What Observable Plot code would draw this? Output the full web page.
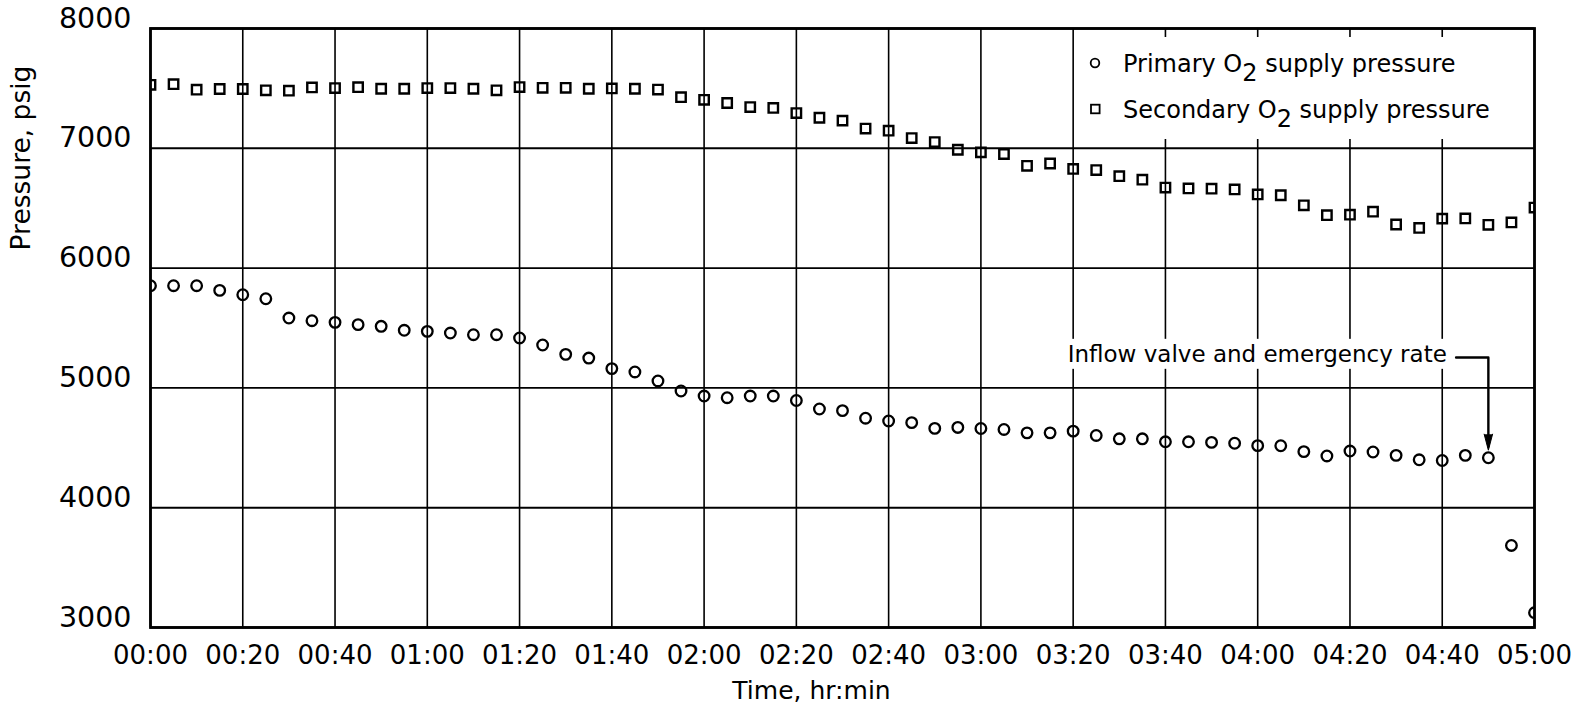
<!DOCTYPE html>
<html>
<head>
<meta charset="utf-8">
<script src="https://cdn.jsdelivr.net/npm/d3@7"></script>
<script src="https://cdn.jsdelivr.net/npm/@observablehq/plot@0.6"></script>
<style>
  body { margin: 0; background: white; }
  #chart { position: relative; width: 1590px; height: 715px; }
</style>
</head>
<body>
<div id="chart"></div>
<script>
// ---- data (minutes after start) ----
const times = [0,5,10,15,20,25,30,35,40,45,50,55,60,65,70,75,80,85,90,95,100,105,110,115,120,125,130,135,140,145,150,155,160,165,170,175,180,185,190,195,200,205,210,215,220,225,230,235,240,245,250,255,260,265,270,275,280,285,290,295,300];

const primary = [5853,5853,5853,5814,5778,5744,5583,5561,5547,5528,5514,5481,5472,5458,5444,5444,5417,5358,5280,5249,5161,5133,5058,4974,4932,4918,4932,4932,4895,4824,4810,4747,4724,4710,4662,4670,4661,4653,4625,4625,4639,4603,4575,4575,4550,4550,4545,4538,4518,4517,4468,4432,4473,4465,4437,4400,4394,4437,4417,3685,3123];

const secondary = [7530,7535,7489,7495,7495,7484,7481,7508,7503,7510,7497,7497,7503,7503,7497,7484,7511,7505,7505,7497,7500,7497,7490,7427,7405,7378,7344,7337,7294,7255,7231,7165,7147,7085,7052,6988,6966,6952,6854,6873,6828,6818,6767,6738,6672,6665,6663,6657,6615,6608,6524,6442,6446,6471,6364,6335,6413,6415,6361,6381,6505];

const xTicks = [0,20,40,60,80,100,120,140,160,180,200,220,240,260,280,300];
const xTickLabels = ["00:00","00:20","00:40","01:00","01:20","01:40","02:00","02:20","02:40","03:00","03:20","03:40","04:00","04:20","04:40","05:00"];
const yTicks = [3000,4000,5000,6000,7000,8000];
const yTickLabels = ["3000","4000","5000","6000","7000","8000"];

const seriesNames = ["Primary O2 supply pressure", "Secondary O2 supply pressure"];
const xLabel = "Time, hr:min";
const yLabel = "Pressure, psig";

const annotationLabel = "Inflow valve and emergency rate";
const annotationText = [{time: 281, value: 5279}];
const annotationPath = [{time: 283, value: 5254}, {time: 290, value: 5254}, {time: 290, value: 4510}];
const annotationTip = [{time: 290, value: 4480}];

// ---- tables ----
const primaryData = times.map((t, i) => ({time: t, value: primary[i]}));
const secondaryData = times.map((t, i) => ({time: t, value: secondary[i]}));

const font = "DejaVu Sans";

const chart = Plot.plot({
  width: 1590,
  height: 715,
  marginLeft: 150,
  marginRight: 56,
  marginTop: 28,
  marginBottom: 88,
  style: {background: "white", color: "black", fontFamily: font},
  x: {domain: [0, 300], label: null},
  y: {domain: [3000, 8000], label: null},
  marks: [
    Plot.gridX(xTicks, {stroke: "black", strokeOpacity: 1, strokeWidth: 1.6}),
    Plot.gridY(yTicks, {stroke: "black", strokeOpacity: 1, strokeWidth: 1.9}),
    Plot.frame({stroke: "black", strokeWidth: 2.8}),
    Plot.axisX(xTicks, {tickSize: 0, tickPadding: 18, fontSize: 26, label: null,
      tickFormat: d => xTickLabels[xTicks.indexOf(d)]}),
    Plot.axisY(yTicks, {tickSize: 0, tickPadding: 19, fontSize: 28.5, dy: -10, label: null,
      tickFormat: d => yTickLabels[yTicks.indexOf(d)]}),
    Plot.dot(primaryData, {x: "time", y: "value", symbol: "circle", r: 5.3,
      stroke: "black", strokeWidth: 2.3, fill: "none", clip: "frame"}),
    Plot.dot(secondaryData, {x: "time", y: "value", symbol: "square", r: 5.3,
      stroke: "black", strokeWidth: 2.4, fill: "none", clip: "frame"}),
    Plot.text(annotationText, {x: "time", y: "value", text: () => annotationLabel,
      textAnchor: "end", fontSize: 23, fill: "black"}),
    Plot.line(annotationPath, {x: "time", y: "value", stroke: "black", strokeWidth: 2.4}),
    Plot.vector(annotationTip, {x: "time", y: "value", length: 16, rotate: 180, shape: "spike",
      r: 4.2, anchor: "end", fill: "black", stroke: "black", strokeWidth: 1}),
    Plot.text([xLabel], {frameAnchor: "bottom", dx: -31, dy: 71, fontSize: 25, fill: "black"})
  ]
});

document.getElementById("chart").appendChild(chart);

const svg = d3.select(chart);
const svgRect = chart.getBoundingClientRect();

// white background behind the annotation text
svg.selectAll("text").each(function() {
  if (this.textContent === annotationLabel) {
    const b = this.getBoundingClientRect();
    const g = this.closest("g");
    const r = document.createElementNS("http://www.w3.org/2000/svg", "rect");
    r.setAttribute("x", b.left - svgRect.left - 6);
    r.setAttribute("y", b.top - svgRect.top - 2);
    r.setAttribute("width", b.width + 12);
    r.setAttribute("height", b.height + 4);
    r.setAttribute("fill", "white");
    g.parentNode.insertBefore(r, g);
  }
});

// y axis title (rotated, near top)
svg.append("text")
  .attr("transform", "translate(30,158) rotate(-90)")
  .attr("text-anchor", "middle")
  .attr("font-family", font)
  .attr("font-size", 26.5)
  .attr("fill", "black")
  .text(yLabel);

// legend (upper right, on white)
const lg = svg.append("g").attr("font-family", font).attr("font-size", 24).attr("text-anchor", "start");
lg.append("rect").attr("x", 1079).attr("y", 37).attr("width", 451).attr("height", 102).attr("fill", "white");
seriesNames.forEach((name, i) => {
  const cy = 63 + i * 46;
  if (i === 0) {
    lg.append("circle").attr("cx", 1095).attr("cy", cy).attr("r", 4.3).attr("fill", "none")
      .attr("stroke", "black").attr("stroke-width", 1.8);
  } else {
    lg.append("rect").attr("x", 1091).attr("y", cy - 4.3).attr("width", 8.6).attr("height", 8.6)
      .attr("fill", "none").attr("stroke", "black").attr("stroke-width", 1.8);
  }
  const parts = name.split("O2");
  const t = lg.append("text").attr("x", 1123).attr("y", cy + 8.5).attr("fill", "black");
  t.append("tspan").text(parts[0] + "O");
  t.append("tspan").attr("dy", 9).text("2");
  t.append("tspan").attr("dy", -9).text(parts[1]);
});
</script>
</body>
</html>
